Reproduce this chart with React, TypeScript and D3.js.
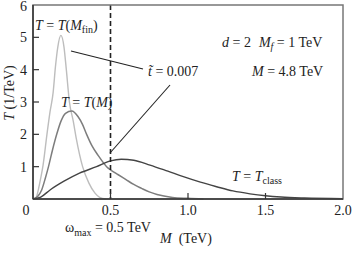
import React from "react";
import * as d3 from "d3";

const xTicks = [0.5, 1.0, 1.5, 2.0];
const xTickLabels = ["0.5", "1.0", "1.5", "2.0"];
const yTicks = [1, 2, 3, 4, 5, 6];

// T = T(M_fin)
const finM = [0, 0.02, 0.035, 0.05, 0.065, 0.09, 0.11, 0.13, 0.145, 0.16, 0.18, 0.2, 0.215, 0.235, 0.26, 0.28, 0.32, 0.36, 0.4, 0.43, 0.47];
const finT = [0, 0.05, 0.3, 0.65, 1.05, 2.0, 2.7, 3.3, 4.1, 4.7, 5.06, 4.7, 4.0, 3.0, 2.4, 1.85, 1.0, 0.5, 0.18, 0.05, 0];

// T = T(M)
const midM = [0, 0.03, 0.056, 0.08, 0.1, 0.125, 0.153, 0.18, 0.21, 0.25, 0.29, 0.32, 0.346, 0.38, 0.42, 0.475, 0.5, 0.55, 0.6, 0.65, 0.7, 0.75, 0.8, 0.9, 1.0, 1.1];
const midT = [0, 0.08, 0.28, 0.65, 1.0, 1.5, 2.0, 2.4, 2.65, 2.72, 2.55, 2.3, 2.0, 1.65, 1.35, 1.0, 0.9, 0.75, 0.6, 0.45, 0.33, 0.22, 0.14, 0.05, 0.02, 0];

// T = T_class
const clsM = [0, 0.05, 0.11, 0.2, 0.3, 0.41, 0.5, 0.57, 0.65, 0.755, 0.87, 0.97, 1.08, 1.185, 1.29, 1.4, 1.5, 1.6, 1.75, 2.0];
const clsT = [0, 0.06, 0.28, 0.55, 0.8, 1.0, 1.18, 1.23, 1.2, 1.05, 0.86, 0.69, 0.52, 0.38, 0.25, 0.16, 0.1, 0.06, 0.03, 0.01];

const omegaMax = 0.5;

export default function App() {
  const W = 356, H = 254;
  const left = 33, right = 343, top = 5, bottom = 199;
  const x = d3.scaleLinear().domain([0, 2]).range([left, right]);
  const y = d3.scaleLinear().domain([0, 6]).range([bottom, top]);
  const line = d3.line<[number, number]>().x(d => x(d[0])).y(d => y(d[1])).curve(d3.curveMonotoneX);
  const mk = (ms: number[], ts: number[]) => line(ms.map((m, i) => [m, ts[i]] as [number, number])) || "";
  const font = '"Liberation Serif", "Times New Roman", "DejaVu Serif", serif';
  const fs = 14;
  const sub = 10;
  return (
    <svg width={W} height={H} style={{ position: "absolute", left: 0, top: 0, background: "#fff", fontFamily: font, fontSize: fs }}>
      <rect x={0} y={0} width={W} height={H} fill="#fff" />
      {/* curves */}
      <path d={mk(finM, finT)} fill="none" stroke="#bdbdbd" strokeWidth={1.4} />
      <path d={mk(midM, midT)} fill="none" stroke="#7d7d7d" strokeWidth={1.5} />
      <path d={mk(clsM, clsT)} fill="none" stroke="#444" strokeWidth={1.4} />
      {/* dashed line */}
      <line x1={x(omegaMax)} x2={x(omegaMax)} y1={top} y2={bottom} stroke="#222" strokeWidth={1.6} strokeDasharray="5,3" />
      {/* frame */}
      <rect x={left} y={top} width={right - left} height={bottom - top} fill="none" stroke="#777" strokeWidth={1.5} />
      <line x1={left} x2={left} y1={top} y2={bottom} stroke="#333" strokeWidth={1.5} />
      <line x1={left} x2={right} y1={bottom} y2={bottom} stroke="#333" strokeWidth={1.5} />
      {/* ticks */}
      {xTicks.map((t, i) => (
        <g key={"x" + i}>
          {t < 2 && <line x1={x(t)} x2={x(t)} y1={bottom} y2={bottom - 6} stroke="#333" strokeWidth={1.2} />}
          <text x={x(t)} y={bottom + 16} textAnchor="middle" fill="#222">{xTickLabels[i]}</text>
        </g>
      ))}
      <text x={26} y={bottom + 16} textAnchor="middle" fill="#222">0</text>
      {yTicks.map((t, i) => (
        <g key={"y" + i}>
          {t < 6 && <line x1={left} x2={left + 6} y1={y(t)} y2={y(t)} stroke="#333" strokeWidth={1.2} />}
          <text x={27} y={y(t) + 5 + (t === 6 ? 0.5 : 0)} textAnchor="end" fill="#222">{t}</text>
        </g>
      ))}
      {/* axis labels */}
      <text x={160} y={243} fill="#222"><tspan fontStyle="italic">M</tspan><tspan dx={7}>(TeV)</tspan></text>
      <text transform="translate(14,93) rotate(-90)" textAnchor="middle" fill="#222"><tspan fontStyle="italic">T</tspan> (1/TeV)</text>
      <text x={65} y={232} fill="#222">ω<tspan fontSize={sub} dy={4}>max</tspan><tspan dy={-4}> = 0.5 TeV</tspan></text>
      {/* annotations */}
      <text x={35} y={30} fill="#222"><tspan fontStyle="italic">T</tspan> = <tspan fontStyle="italic">T</tspan>(<tspan fontStyle="italic">M</tspan><tspan fontSize={sub} dy={3}>fin</tspan><tspan dy={-3}>)</tspan></text>
      <text x={61} y={107} fill="#222"><tspan fontStyle="italic">T</tspan> = <tspan fontStyle="italic">T</tspan>(<tspan fontStyle="italic">M</tspan>)</text>
      <text x={232} y={181} fill="#222"><tspan fontStyle="italic">T</tspan> = <tspan fontStyle="italic">T</tspan><tspan fontSize={sub} dy={3}>class</tspan></text>
      <text x={222} y={47} fill="#222"><tspan fontStyle="italic">d</tspan> = 2<tspan dx={8} fontStyle="italic">M</tspan><tspan fontSize={sub} dy={3} fontStyle="italic">f</tspan><tspan dy={-3}> = 1 TeV</tspan></text>
      <text x={252} y={76} fill="#222"><tspan fontStyle="italic">M</tspan> = 4.8 TeV</text>
      <text x={148} y={76} fill="#222"><tspan fontStyle="italic">t̃</tspan> = 0.007</text>
      <line x1={71} y1={51} x2={143} y2={69} stroke="#222" strokeWidth={1.1} />
      <line x1={170} y1={85} x2={110} y2={153} stroke="#222" strokeWidth={1.1} />
    </svg>
  );
}
